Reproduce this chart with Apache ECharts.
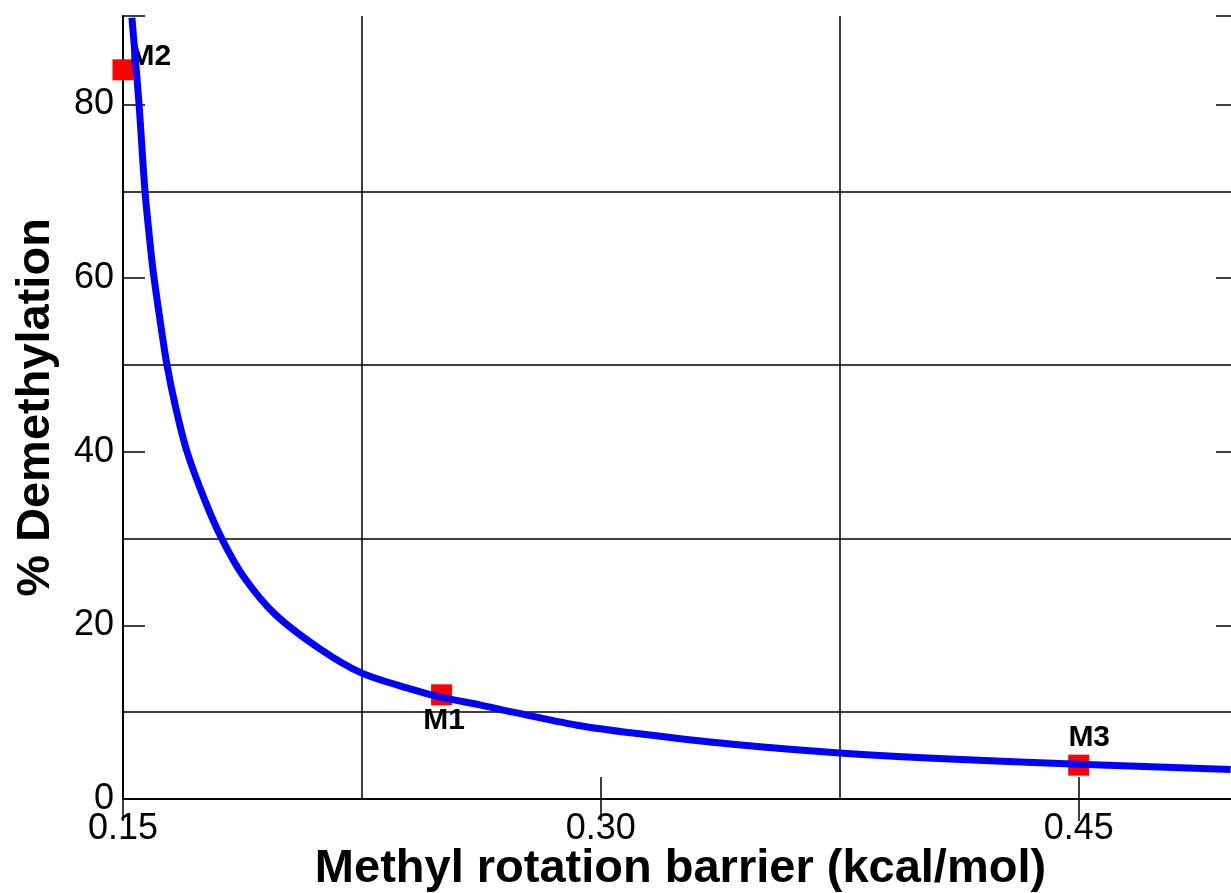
<!DOCTYPE html>
<html>
<head>
<meta charset="utf-8">
<script src="https://cdn.jsdelivr.net/npm/echarts@6/dist/echarts.min.js"></script>
<style>
  html, body { margin: 0; padding: 0; background: #fff; overflow: hidden; }
  /* plot runs a few pixels past the right edge of the window, as in the original */
  #chart { width: 1238px; height: 893px; }
</style>
</head>
<body>
<div id="chart"></div>
<script>
// fitted curve
const curveBarrier = [0.1528, 0.155, 0.1569, 0.1585, 0.1594, 0.1613, 0.1638, 0.1666, 0.1701, 0.1757, 0.181, 0.1877, 0.1977, 0.2118, 0.225, 0.241, 0.25, 0.262, 0.2724, 0.2925, 0.31, 0.3414, 0.375, 0.4095, 0.45, 0.4977];
const curveDemethylation = [90.0, 80.2, 70.0, 64.0, 61.0, 56.0, 50.0, 45.0, 40.0, 34.4, 30.0, 25.7, 21.3, 17.3, 14.5, 12.6, 11.7, 10.85, 10.0, 8.5, 7.6, 6.3, 5.3, 4.6, 4.0, 3.4];

// molecules
const molNames = ["M2", "M1", "M3"];
const molBarrier = [0.15, 0.25, 0.45];
const molDemethylation = [84.0, 12.0, 3.9];

const xTickLabels = [0.15, 0.30, 0.45];
const yTickLabels = [0, 20, 40, 60, 80];
const xGridLines = [0.225, 0.375];
const yGridLines = [10, 30, 50, 70];

const font = "Liberation Sans";
const labelOffsets = {
  M2: { position: [17, -3], align: "left" },
  M1: { position: [13, 36], align: "center" },
  M3: { position: [21, -17], align: "center" },
};

const chart = echarts.init(document.getElementById("chart"));

const axisLine = { show: true, lineStyle: { color: "#000", width: 2 } };
const axisTick = { show: true, inside: true, length: 22, lineStyle: { color: "#000", width: 1.5 } };

const xFormatter = (v) =>
  xTickLabels.some((t) => Math.abs(t - v) < 1e-6) ? v.toFixed(2) : "";
const yFormatter = (v) =>
  yTickLabels.some((t) => Math.abs(t - v) < 1e-6) ? String(Math.round(v)) : "";

const gridLineData = [
  ...xGridLines.map((v) => ({ xAxis: v })),
  ...yGridLines.map((v) => ({ yAxis: v })),
];

const option = {
  animation: false,
  backgroundColor: "#fff",
  grid: { left: 123, right: 0, top: 16, bottom: 94, outerBoundsMode: "none" },
  xAxis: [
    {
      type: "value",
      position: "bottom",
      min: 0.15,
      max: 0.5,
      interval: 0.15,
      axisLine,
      axisTick,
      splitLine: { show: false },
      axisLabel: {
        formatter: xFormatter,
        color: "#000",
        fontFamily: font,
        fontSize: 36,
        margin: 12,
      },
      name: "Methyl rotation barrier (kcal/mol)",
      nameLocation: "middle",
      nameGap: 47,
      nameMoveOverlap: false,
      nameTextStyle: { fontFamily: font, fontWeight: "bold", fontSize: 47, color: "#000" },
    },
    {
      type: "value",
      position: "top",
      min: 0.15,
      max: 0.5,
      interval: 0.15,
      axisLine,
      axisTick,
      splitLine: { show: false },
      axisLabel: { show: false },
    },
  ],
  yAxis: [
    {
      type: "value",
      position: "left",
      min: 0,
      max: 90.2,
      interval: 20,
      axisLine,
      axisTick,
      splitLine: { show: false },
      axisLabel: {
        formatter: yFormatter,
        color: "#000",
        fontFamily: font,
        fontSize: 36,
        margin: 9,
      },
      name: "% Demethylation",
      nameLocation: "middle",
      nameGap: 63,
      nameMoveOverlap: false,
      nameTextStyle: { fontFamily: font, fontWeight: "bold", fontSize: 47, color: "#000" },
    },
    {
      type: "value",
      position: "right",
      min: 0,
      max: 90.2,
      interval: 20,
      axisLine,
      axisTick,
      splitLine: { show: false },
      axisLabel: { show: false },
    },
  ],
  series: [
    {
      name: "fit",
      type: "line",
      data: curveBarrier.map((x, i) => [x, curveDemethylation[i]]),
      showSymbol: false,
      smooth: 0.3,
      lineStyle: { color: "#0000ff", width: 7, join: "round" },
      z: 3,
      markLine: {
        silent: true,
        symbol: "none",
        precision: 4,
        label: { show: false },
        lineStyle: { color: "#000", width: 1.5, type: "solid" },
        data: gridLineData,
        z: 1,
      },
    },
    {
      name: "molecules",
      type: "scatter",
      clip: false,
      symbol: "rect",
      symbolSize: 21,
      itemStyle: { color: "#ff0000", opacity: 1 },
      z: 2,
      data: molNames.map((n, i) => ({
        name: n,
        value: [molBarrier[i], molDemethylation[i]],
        label: {
          show: true,
          formatter: n,
          position: labelOffsets[n].position,
          align: labelOffsets[n].align,
          verticalAlign: "middle",
          fontFamily: font,
          fontWeight: "bold",
          fontSize: 30,
          color: "#000",
        },
      })),
    },
  ],
};

chart.setOption(option);
</script>
</body>
</html>
